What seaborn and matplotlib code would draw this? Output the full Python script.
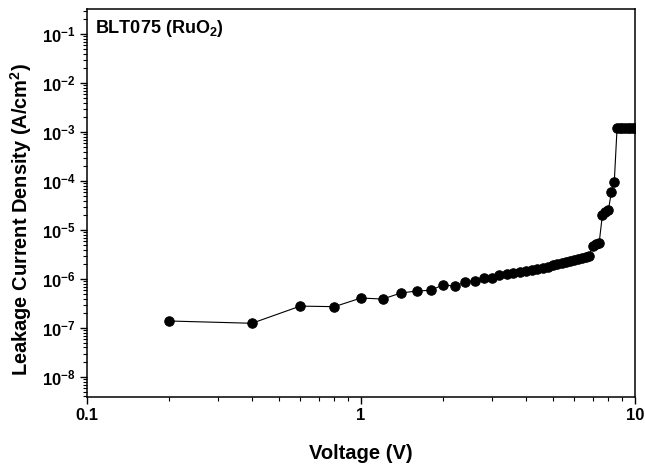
import numpy as np
import pandas as pd
import matplotlib
matplotlib.use("Agg")
import matplotlib.pyplot as plt
import matplotlib.ticker as mticker
import seaborn as sns

# Data
voltage = [0.2, 0.4, 0.6, 0.8, 1.0, 1.2, 1.4, 1.6, 1.8, 2.0,
           2.2, 2.4, 2.6, 2.8, 3.0, 3.2, 3.4, 3.6, 3.8, 4.0,
           4.2, 4.4, 4.6, 4.8, 5.0, 5.2, 5.4, 5.6, 5.8, 6.0,
           6.2, 6.4, 6.6, 6.8, 7.0, 7.2, 7.4, 7.6, 7.8, 8.0,
           8.2, 8.4, 8.6, 8.8, 9.0, 9.2, 9.4, 9.6, 9.8, 10.0]
current = [1.39e-7, 1.25e-7, 2.8e-7, 2.73e-7, 4.1e-7, 3.9e-7, 5.2e-7, 5.7e-7, 5.9e-7, 7.7e-7,
           7.1e-7, 8.7e-7, 9.3e-7, 1.07e-6, 1.04e-6, 1.21e-6, 1.29e-6, 1.31e-6, 1.41e-6, 1.43e-6,
           1.51e-6, 1.60e-6, 1.69e-6, 1.79e-6, 1.90e-6, 2.0e-6, 2.1e-6, 2.2e-6, 2.32e-6, 2.44e-6,
           2.54e-6, 2.66e-6, 2.77e-6, 2.9e-6, 4.7e-6, 5.1e-6, 5.5e-6, 2.0e-5, 2.3e-5, 2.6e-5,
           6.0e-5, 9.4e-5, 1.2e-3, 1.2e-3, 1.2e-3, 1.2e-3, 1.2e-3, 1.2e-3, 1.2e-3, 1.2e-3]
sample_label = "BLT075 (RuO$_2$)"
x_title = "Voltage (V)"
y_title = "Leakage Current Density (A/cm$^2$)"

df = pd.DataFrame({"V": voltage, "J": current})

sns.set_style("ticks")
plt.rcParams["font.family"] = ["Liberation Sans", "DejaVu Sans"]
plt.rcParams["font.weight"] = "bold"
plt.rcParams["mathtext.fontset"] = "custom"
plt.rcParams["mathtext.rm"] = "Liberation Sans:bold"
plt.rcParams["mathtext.it"] = "Liberation Sans:bold"
plt.rcParams["mathtext.bf"] = "Liberation Sans:bold"
plt.rcParams["axes.linewidth"] = 1.1
for k in ["text.color", "axes.labelcolor", "xtick.color", "ytick.color", "axes.edgecolor"]:
    plt.rcParams[k] = "black"

fig = plt.figure(figsize=(6.45, 4.65), dpi=100)
ax = fig.add_axes([87/645, 1 - 397/465, (635 - 87)/645, (397 - 9.5)/465])

sns.lineplot(data=df, x="V", y="J", ax=ax, sort=False, estimator=None,
             color="black", linewidth=0.8, marker="o", markersize=6.8,
             markeredgecolor="black", markerfacecolor="black")

ax.set_xscale("log")
ax.set_yscale("log")
ax.set_xlim(0.1, 10)
ax.set_ylim(3.9e-9, 0.32)

for s in ["top", "right", "left", "bottom"]:
    ax.spines[s].set_visible(True)
    ax.spines[s].set_color("black")
    ax.spines[s].set_linewidth(1.1)

ax.xaxis.set_major_locator(mticker.FixedLocator([0.1, 1, 10]))
ax.xaxis.set_major_formatter(mticker.FuncFormatter(lambda v, p: {0.1: "0.1", 1: "1", 10: "10"}.get(round(v, 3), "")))
ax.xaxis.set_minor_locator(mticker.LogLocator(base=10, subs=np.arange(2, 10) * 1.0, numticks=20))
ax.xaxis.set_minor_formatter(mticker.NullFormatter())

yt = [1e-8, 1e-7, 1e-6, 1e-5, 1e-4, 1e-3, 1e-2, 1e-1]
ax.yaxis.set_major_locator(mticker.FixedLocator(yt))
ax.yaxis.set_major_formatter(mticker.FuncFormatter(lambda v, p: r"$10^{%d}$" % int(round(np.log10(v)))))
ax.yaxis.set_minor_locator(mticker.LogLocator(base=10, subs=np.arange(2, 10) * 1.0, numticks=30))
ax.yaxis.set_minor_formatter(mticker.NullFormatter())

ax.tick_params(which="major", direction="out", length=5, width=1.0, labelsize=12, pad=3,
               top=False, right=False, colors="black")
ax.tick_params(which="minor", direction="out", length=2.8, width=0.8, top=False, right=False)

ax.set_xlabel(x_title, fontsize=14.5, fontweight="bold", labelpad=15)
ax.set_ylabel(y_title, fontsize=14.4, fontweight="bold")
ax.yaxis.set_label_coords(-0.097, 0.458)

ax.text(0.015, 0.952, sample_label, transform=ax.transAxes, fontsize=13,
        fontweight="bold", ha="left", va="center")

fig.savefig("out.png", dpi=100)
